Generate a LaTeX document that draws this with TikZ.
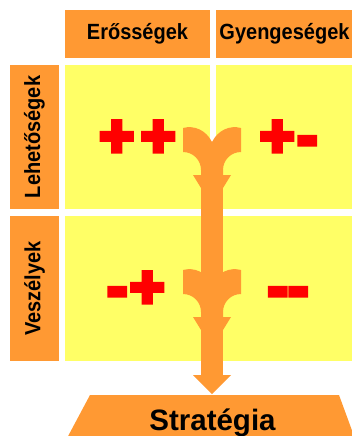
\documentclass[tikz,border=0pt]{standalone}
\usepackage{fontspec}
\setmainfont{Liberation Sans}
\newfontfamily\signfont{Liberation Sans Bold}[FakeBold=8]
\definecolor{boxorange}{HTML}{FF9933}
\definecolor{cellyellow}{HTML}{FFFF66}

\begin{document}
\begin{tikzpicture}[x=1pt, y=-1pt,
  headbox/.style={fill=boxorange},
  cellbox/.style={fill=cellyellow},
  headlabel/.style={font=\fontsize{20}{20}\selectfont\bfseries, inner sep=0pt},
  signlabel/.style={text=red, anchor=base, inner sep=0pt, font=\signfont\fontsize{59}{60}\selectfont}]
\def\cellw{145}
\def\cellh{144}

\useasboundingbox (0,0) rectangle (352,436);
\clip (0,0) rectangle (352,436);

\fill [headbox] (65, 10) rectangle +(\cellw, 48) node[midway, headlabel] (eros) {\scalebox{1}[1.1]{Erősségek}};
\fill [headbox] (216, 10) rectangle +(\cellw, 48) node[midway, headlabel, xshift=-4pt] (gyenge) {\scalebox{1}[1.1]{Gyengeségek}};

\fill [headbox] (10, 65) rectangle +(49, \cellh) node[midway, headlabel, rotate=90] (lehet) {\scalebox{1}[1.1]{Lehetőségek}};
\fill [headbox] (10, 216) rectangle +(49, 145) node[midway, headlabel, rotate=90] (veszely) {\scalebox{1}[1.1]{Veszélyek}};

\fill [cellbox] (65, 65) rectangle +(\cellw, \cellh);
\fill [cellbox] (216, 65) rectangle +(\cellw, \cellh);
\fill [cellbox] (65, 216) rectangle +(\cellw, 145);
\fill [cellbox] (216, 216) rectangle +(\cellw, 145);

\node [signlabel] (so) at (137.5, 156) {+\kern7pt+};
\node [signlabel] (wo) at (288.5, 156) {+\kern3pt-};
\node [signlabel] (st) at (136, 307) {-\kern3pt+};
\node [signlabel] (wt) at (288, 307) {-\kern1pt-};

\fill [headbox] (90, 395) -- (339, 395) -- (355.5, 440) -- (66, 440) -- cycle;
\node [headlabel, font=\fontsize{29.5}{30}\selectfont\bfseries, anchor=base] (strat) at (212.5, 430) {Stratégia};

\fill [headbox] (201, 160) rectangle (223, 376);
\foreach \wy in {128, 270} {
\fill [headbox] (212, \wy+14) .. controls (206, \wy+2) and (194, \wy-3) .. (183, \wy)
  -- (183, \wy+24) .. controls (193, \wy+24) and (201, \wy+32) .. (201, \wy+42)
  -- (201, \wy+47) -- (193, \wy+47) -- (201, \wy+60) -- (223, \wy+60) -- (231, \wy+47)
  -- (223, \wy+47) -- (223, \wy+42) .. controls (223, \wy+32) and (231, \wy+24) .. (241, \wy+24)
  -- (241, \wy) .. controls (230, \wy-3) and (218, \wy+2) .. (212, \wy+14) -- cycle;
}
\fill [headbox] (193, 375) -- (231, 375) -- (212, 394) -- cycle;

\end{tikzpicture}
\end{document}
